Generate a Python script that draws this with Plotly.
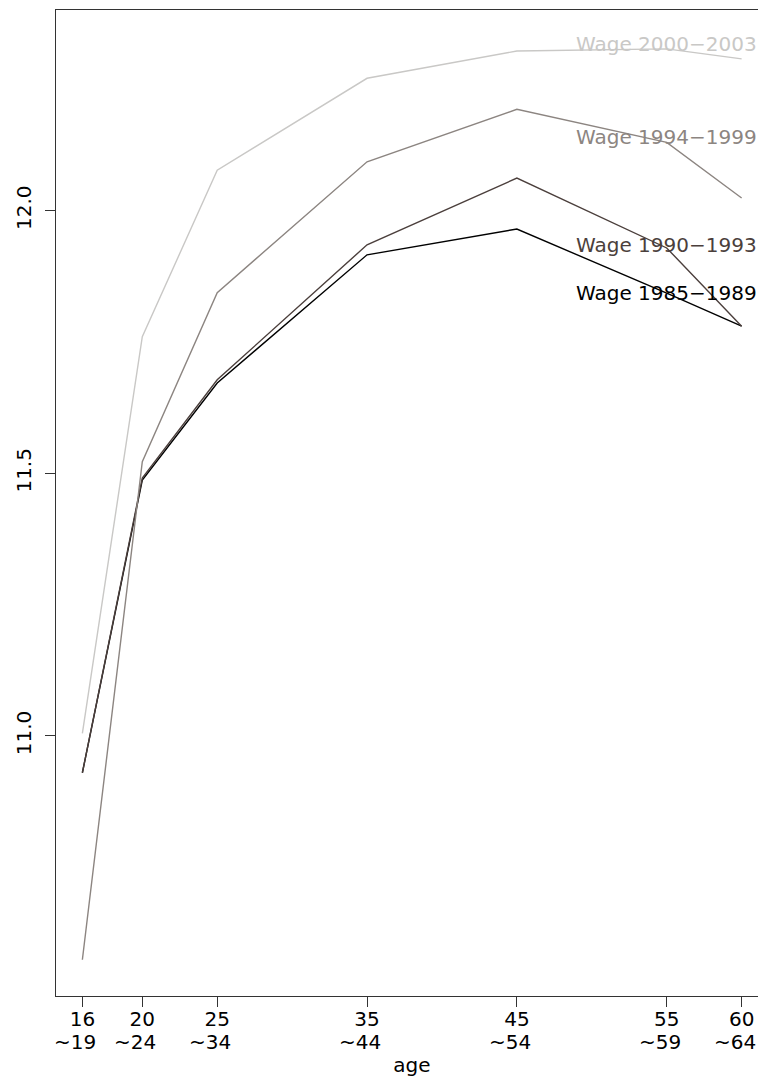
import plotly.graph_objects as go

# ---- data ----
age_start = [16, 20, 25, 35, 45, 55, 60]
age_tick_top = ["16", "20", "25", "35", "45", "55", "60"]
age_tick_bottom = ["~19", "~24", "~34", "~44", "~54", "~59", "~64"]

series_names = ["Wage 1985\u22121989", "Wage 1990\u22121993", "Wage 1994\u22121999", "Wage 2000\u22122003"]
wage_1985_1989 = [10.930, 11.487, 11.672, 11.916, 11.965, 11.843, 11.780]
wage_1990_1993 = [10.930, 11.491, 11.678, 11.935, 12.062, 11.929, 11.780]
wage_1994_1999 = [10.574, 11.522, 11.844, 12.093, 12.193, 12.130, 12.024]
wage_2000_2003 = [11.005, 11.760, 12.077, 12.252, 12.304, 12.308, 12.289]
series_values = [wage_1985_1989, wage_1990_1993, wage_1994_1999, wage_2000_2003]

label_x = 55
label_y = [11.843, 11.935, 12.140, 12.317]

y_ticks = [11.0, 11.5, 12.0]
y_tick_text = ["11.0", "11.5", "12.0"]

# ---- styles ----
colors = ["#000000", "#4b3f3c", "#8c8581", "#c9c8c6"]
FONT = "DejaVu Sans"
AXIS_COL = "#333333"

fig = go.Figure()
for name, vals, col in zip(series_names, series_values, colors):
    fig.add_trace(go.Scatter(x=age_start, y=vals, mode="lines", name=name,
                             line=dict(color=col, width=1.4), showlegend=False,
                             hoverinfo="skip"))

for name, ly, col in zip(series_names, label_y, colors):
    fig.add_annotation(x=label_x, y=ly, xref="x", yref="y", text=name,
                       showarrow=False, xanchor="center", yanchor="middle",
                       font=dict(family=FONT, size=20, color=col))

# second line of the x tick labels
for a, b in zip(age_start, age_tick_bottom):
    fig.add_annotation(x=a, y=0, xref="x", yref="paper", text=b,
                       showarrow=False, xanchor="center", yanchor="middle",
                       xshift=-7, yshift=-46,
                       font=dict(family=FONT, size=20, color="#000000"))

# The original plot region runs past the right edge of the window,
# so the figure is slightly wider than the window (overflow hidden).
fig.update_layout(
    width=768, height=1077,
    margin=dict(l=56, r=0, t=10, b=81),
    plot_bgcolor="white", paper_bgcolor="white",
    font=dict(family=FONT, size=20, color="#000000"),
    xaxis=dict(range=[14.24, 61.76], tickmode="array", tickvals=age_start,
               ticktext=age_tick_top, ticks="outside", ticklen=10, tickcolor=AXIS_COL,
               showline=True, linecolor=AXIS_COL, linewidth=1, mirror=True,
               showgrid=False, zeroline=False, automargin=False,
               ticklabelstandoff=-5,
               title=dict(text="age", standoff=28, font=dict(size=20))),
    yaxis=dict(range=[10.505, 12.382], tickmode="array", tickvals=y_ticks,
               ticktext=y_tick_text, tickangle=-90, ticks="outside", ticklen=10,
               tickcolor=AXIS_COL, showline=True, linecolor=AXIS_COL, linewidth=1,
               mirror=True, showgrid=False, zeroline=False, ticklabelstandoff=6,
               automargin=False),
)

fig.write_html(
    "out.html",
    config={"displayModeBar": False},
    post_script="document.body.style.margin='0';document.body.style.overflow='hidden';",
)
